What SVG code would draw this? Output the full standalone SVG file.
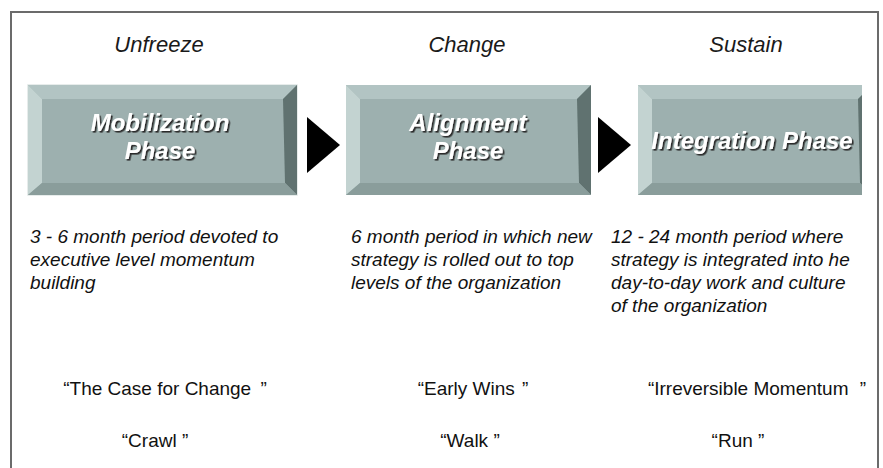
<svg xmlns="http://www.w3.org/2000/svg" width="883" height="468" viewBox="0 0 883 468">
  <defs>
    <style>
      .frame { fill: none; stroke: #6b6b6b; stroke-width: 2; }
      .stage { font-family: "Liberation Sans", Arial, sans-serif; font-style: italic; font-size: 22px; fill: #1a1a1a; text-anchor: middle; }
      .desc { font-family: "Liberation Sans", Arial, sans-serif; font-style: italic; font-size: 19px; fill: #111111; }
      .quote { font-family: "Liberation Sans", Arial, sans-serif; font-size: 19px; fill: #111111; text-anchor: middle; }
      .phase { font-family: "Liberation Sans", Arial, sans-serif; font-style: italic; font-weight: bold; font-size: 24px; fill: #ffffff; text-anchor: middle; filter: url(#emboss); }
      .edge { fill: none; stroke: #dfe6e5; stroke-width: 1.5; }
      .face { fill: #9db0af; }
      .bt { fill: #b2c4c3; }
      .bl { fill: #c3d3d1; }
      .bb { fill: #8a9d9b; }
      .br { fill: #607270; }
      .arrow { fill: #000000; }
    </style>
    <filter id="emboss" x="-10%" y="-30%" width="120%" height="160%">
      <feDropShadow dx="1.6" dy="1.6" stdDeviation="0.4" flood-color="#2a2a2a" flood-opacity="1"/>
    </filter>
    <clipPath id="pageClip">
      <rect x="0" y="0" width="862" height="468"/>
    </clipPath>
  </defs>

  <rect width="883" height="468" fill="#ffffff"/>

  <!-- outer frame, open at the bottom -->
  <path class="frame" d="M11,468 V12 H878 V468"/>

  <!-- stage headings -->
  <g id="stage-unfreeze"><text class="stage" x="159" y="52">Unfreeze</text></g>
  <g id="stage-change"><text class="stage" x="467" y="52">Change</text></g>
  <g id="stage-sustain"><text class="stage" x="746" y="52">Sustain</text></g>

  <!-- Mobilization phase block -->
  <g id="mobilization">
    <rect class="edge" x="28" y="85" width="269" height="110"/>
    <rect class="face" x="28" y="85" width="269" height="110"/>
    <polygon class="bt" points="28,85 297,85 283,99 42,99"/>
    <polygon class="bl" points="28,85 42,99 42,183 28,195"/>
    <polygon class="br" points="297,85 297,195 285,183 283,99"/>
    <polygon class="bb" points="28,195 42,183 285,183 297,195"/>
    <text class="phase" x="160" y="131">Mobilization</text>
    <text class="phase" x="160" y="159">Phase</text>
  </g>

  <!-- Alignment phase block -->
  <g id="alignment">
    <rect class="face" x="346" y="85" width="245" height="110"/>
    <polygon class="bt" points="346,85 591,85 577,99 360,99"/>
    <polygon class="bl" points="346,85 360,99 360,183 346,195"/>
    <polygon class="br" points="591,85 591,195 579,183 577,99"/>
    <polygon class="bb" points="346,195 360,183 579,183 591,195"/>
    <text class="phase" x="468" y="131">Alignment</text>
    <text class="phase" x="468" y="159">Phase</text>
  </g>

  <!-- Integration phase block, cut off at the right -->
  <g id="integration" clip-path="url(#pageClip)">
    <rect class="face" x="638" y="85" width="234" height="110"/>
    <polygon class="bt" points="638,85 872,85 858,99 652,99"/>
    <polygon class="bl" points="638,85 652,99 652,183 638,195"/>
    <polygon class="br" points="872,85 872,195 860,183 858,99"/>
    <polygon class="bb" points="638,195 652,183 860,183 872,195"/>
    <text class="phase" x="752" y="149">Integration Phase</text>
  </g>

  <!-- connectors between phases -->
  <g id="connectors">
    <polygon class="arrow" points="307,117 340,145 307,173"/>
    <polygon class="arrow" points="598,117 631,145 598,173"/>
  </g>

  <!-- phase descriptions -->
  <g id="desc-mobilization">
    <text class="desc" x="30" y="243">3 - 6 month period devoted to</text>
    <text class="desc" x="30" y="266">executive level momentum</text>
    <text class="desc" x="30" y="289">building</text>
  </g>
  <g id="desc-alignment">
    <text class="desc" x="351" y="243">6 month period in which new</text>
    <text class="desc" x="351" y="266">strategy is rolled out to top</text>
    <text class="desc" x="351" y="289">levels of the organization</text>
  </g>
  <g id="desc-integration">
    <text class="desc" x="611" y="243">12 - 24 month period where</text>
    <text class="desc" x="611" y="266">strategy is integrated into he</text>
    <text class="desc" x="611" y="289">day-to-day work and culture</text>
    <text class="desc" x="611" y="312">of the organization</text>
  </g>

  <!-- slogans -->
  <g id="slogan-mobilization"><text class="quote" x="165" y="395">“The Case for Change <tspan dx="4">”</tspan></text></g>
  <g id="slogan-alignment"><text class="quote" x="473" y="395">“Early Wins <tspan dx="2">”</tspan></text></g>
  <g id="slogan-integration"><text class="quote" x="757" y="395">“Irreversible Momentum <tspan dx="6">”</tspan></text></g>

  <g id="pace-mobilization"><text class="quote" x="155" y="447">“Crawl ”</text></g>
  <g id="pace-alignment"><text class="quote" x="470" y="447">“Walk ”</text></g>
  <g id="pace-integration"><text class="quote" x="738" y="447">“Run ”</text></g>
</svg>
